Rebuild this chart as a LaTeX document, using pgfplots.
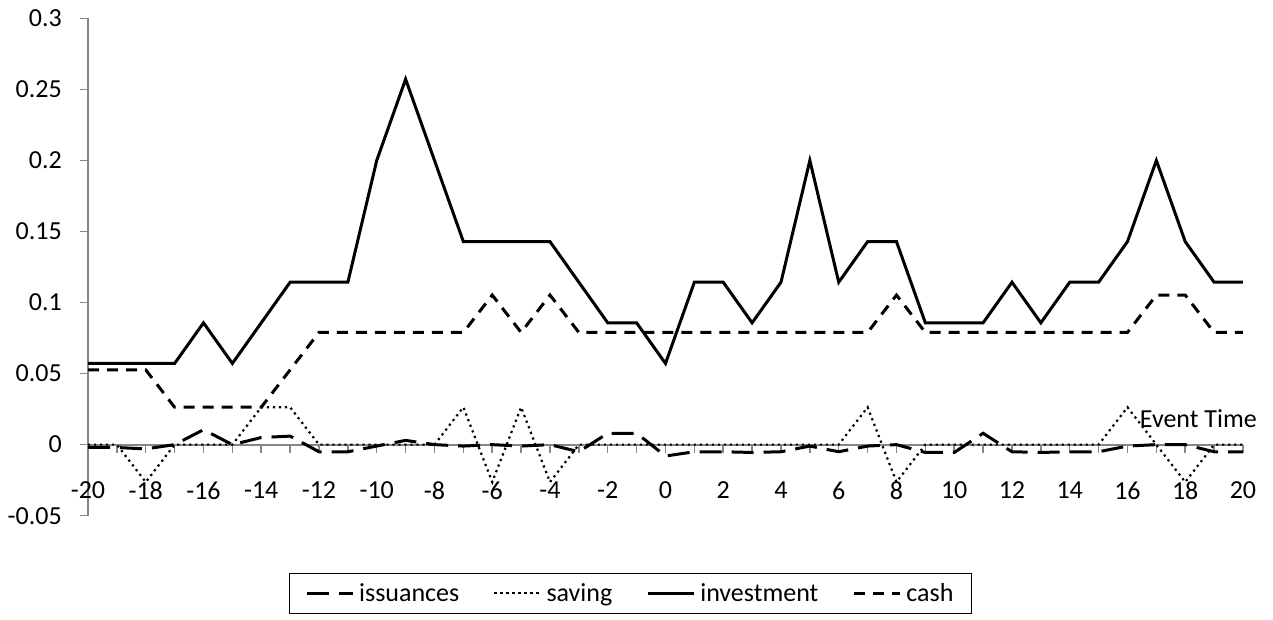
\documentclass[border=0pt]{standalone}
\usepackage{fontspec}
\setmainfont{Carlito}
\usepackage{pgfplots}
\usepackage{pgfplotstable}
\pgfplotsset{compat=1.18}
\definecolor{axisgray}{HTML}{868686}

\pgfplotstableread{
x   iss      sav       inv      cash
-20 -0.002   0         0.05714  0.05263
-19 -0.002   0         0.05714  0.05263
-18 -0.003  -0.02632   0.05714  0.05263
-17  0       0         0.05714  0.02632
-16  0.0105  0         0.08571  0.02632
-15  0       0         0.05714  0.02632
-14  0.005   0.02632   0.08571  0.02632
-13  0.006   0.02632   0.11429  0.05263
-12 -0.005   0         0.11429  0.07895
-11 -0.005   0         0.11429  0.07895
-10 -0.001   0         0.2      0.07895
-9   0.003   0         0.25714  0.07895
-8   0       0         0.2      0.07895
-7  -0.001   0.02632   0.14286  0.07895
-6   0      -0.02632   0.14286  0.10526
-5  -0.001   0.02632   0.14286  0.07895
-4   0      -0.02632   0.14286  0.10526
-3  -0.005   0         0.11429  0.07895
-2   0.008   0         0.08571  0.07895
-1   0.008   0         0.08571  0.07895
0   -0.008   0         0.05714  0.07895
1   -0.005   0         0.11429  0.07895
2   -0.005   0         0.11429  0.07895
3   -0.0055  0         0.08571  0.07895
4   -0.005   0         0.11429  0.07895
5   -0.001   0         0.2      0.07895
6   -0.005   0         0.11429  0.07895
7   -0.001   0.02632   0.14286  0.07895
8    0      -0.02632   0.14286  0.10526
9   -0.0055  0         0.08571  0.07895
10  -0.0055  0         0.08571  0.07895
11   0.008   0         0.08571  0.07895
12  -0.005   0         0.11429  0.07895
13  -0.0055  0         0.08571  0.07895
14  -0.005   0         0.11429  0.07895
15  -0.005   0         0.11429  0.07895
16  -0.001   0.02632   0.14286  0.07895
17   0       0         0.2      0.10526
18   0      -0.02632   0.14286  0.10526
19  -0.005   0         0.11429  0.07895
20  -0.005   0         0.11429  0.07895
}\datatable

\begin{document}
\begin{tikzpicture}
\useasboundingbox (0,0) rectangle (1273pt,619pt);
\begin{axis}[
  at={(88pt,103.3pt)}, anchor=south west,
  scale only axis, width=1155pt, height=497.4pt,
  xmin=-20, xmax=20, ymin=-0.05, ymax=0.3,
  clip=false,
  axis x line*=middle, axis y line*=left,
  axis line style={-, draw=axisgray, line width=2pt},
  hide obscured x ticks=false, hide obscured y ticks=false,
  xtick={-20,-19,...,20},
  xticklabels={-20,,-18,,-16,,-14,,-12,,-10,,-8,,-6,,-4,,-2,,0,,2,,4,,6,,8,,10,,12,,14,,16,,18,,20},
  ytick={-0.05,0,0.05,0.1,0.15,0.2,0.25,0.3},
  yticklabels={-0.05,0,0.05,0.1,0.15,0.2,0.25,0.3},
  tick align=outside, major tick length=8pt,
  tick style={draw=axisgray, line width=1.5pt},
  x tick label style={font=\fontsize{26}{30}\selectfont, anchor=north, inner sep=0pt, yshift=-29pt},
  y tick label style={font=\fontsize{26}{30}\selectfont, anchor=east, inner sep=0pt, xshift=-18pt},
  legend columns=4,
  legend image code/.code={\draw[#1] (0pt,0pt) -- (46pt,0pt);},
  legend style={at={(0.7654,-0.1152)}, anchor=north east, draw=black, line width=1.2pt,
    fill=white, font=\fontsize{26}{30}\selectfont, inner xsep=16pt, inner ysep=8pt,
    /tikz/every odd column/.append style={column sep=3pt},
    /tikz/every even column/.append style={column sep=32pt}},
  legend cell align=left,
]
\addplot[black, line width=3pt, dash pattern=on 22pt off 10pt] table[x=x, y=iss] {\datatable};
\addlegendentry{issuances}
\addplot[black, line width=2.2pt, dash pattern=on 2.2pt off 3.8pt] table[x=x, y=sav] {\datatable};
\addlegendentry{saving}
\addplot[black, line width=3pt] table[x=x, y=inv] {\datatable};
\addlegendentry{investment}
\addplot[black, line width=3pt, dash pattern=on 11pt off 8pt] table[x=x, y=cash] {\datatable};
\addlegendentry{cash}
\node[anchor=base east, font=\fontsize{26}{30}\selectfont, inner sep=0pt, xshift=14pt, yshift=17.5pt] at (axis cs:20,0) {Event Time};
\end{axis}
\end{tikzpicture}
\end{document}
